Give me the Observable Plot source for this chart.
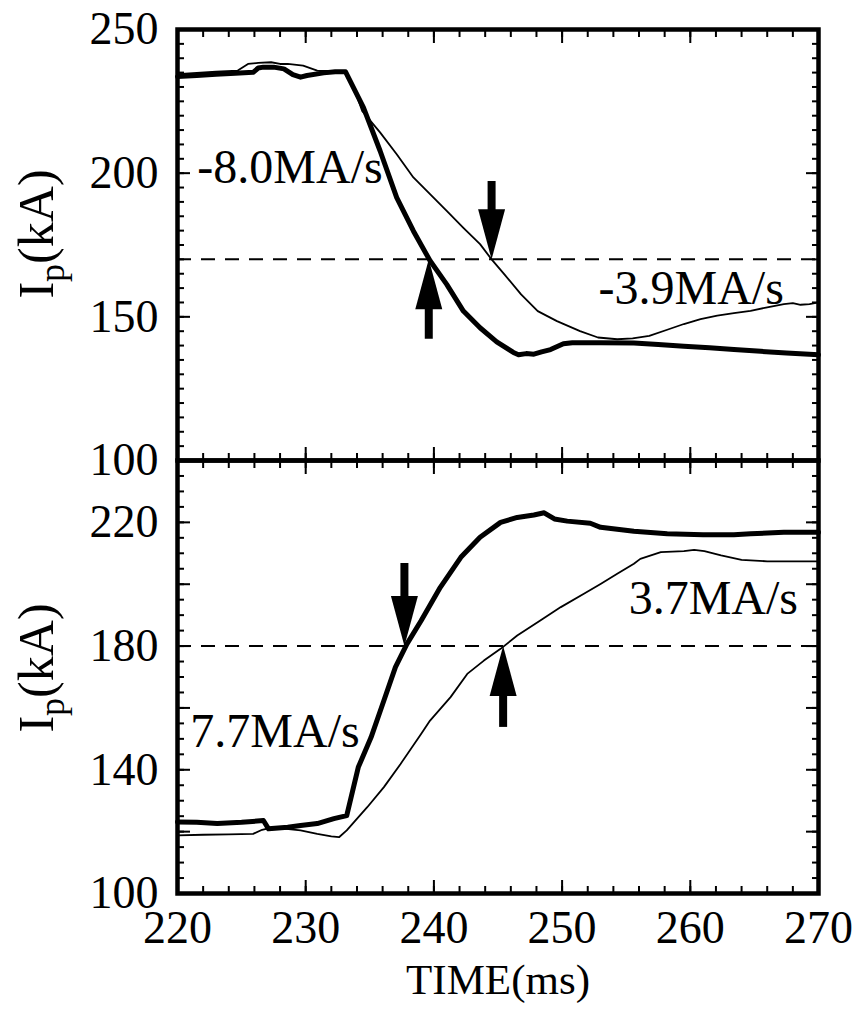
<!DOCTYPE html>
<html>
<head>
<meta charset="utf-8">
<script src="https://cdn.jsdelivr.net/npm/d3@7"></script>
<script src="https://cdn.jsdelivr.net/npm/@observablehq/plot@0.6"></script>
<style>
  html, body { margin: 0; padding: 0; background: white; }
  #chart { position: relative; width: 862px; height: 1017px; background: white; }
  #chart svg { position: absolute; left: 0; top: 0; }
  #chart svg, #chart svg text, #chart svg tspan { font-family: 'Liberation Serif', 'Times New Roman', Times, serif !important; }
</style>
</head>
<body>
<div id="chart"></div>
<script>
// ---------------- DATA ----------------
// Upper panel (current ramp-down)
const topThickTime = [220.0,221.5,223.0,224.5,225.9,226.3,226.7,227.5,228.3,229.0,229.6,230.1,231.4,232.3,233.1,234.5,235.8,237.1,238.4,239.7,241.0,242.3,243.6,244.9,246.2,246.6,247.2,247.8,248.4,249.1,250.1,250.8,253.0,255.6,257.5,259.5,261.5,263.4,265.5,267.5,270.0];
const topThickIp   = [233.6,234.0,234.4,234.8,235.1,236.6,236.9,236.9,236.3,234.3,233.4,234.0,234.9,235.3,235.3,222.9,207.8,191.5,179.9,169.5,161.3,152.0,146.2,141.3,137.6,136.8,137.2,137.0,137.8,138.6,140.6,141.0,141.0,140.9,140.4,139.8,139.2,138.6,138.0,137.4,136.8];
const topThinTime  = [220.0,221.5,223.0,224.7,225.5,226.3,227.3,228.0,228.6,229.8,230.9,232.0,233.1,233.8,234.4,235.8,237.1,238.4,239.7,241.0,242.3,243.6,244.5,245.5,246.8,248.1,249.6,251.4,252.8,254.3,255.5,256.8,258.2,259.5,260.8,262.1,263.4,264.7,266.0,267.3,268.0,268.6,269.3,270.0];
const topThinIp    = [234.5,234.9,235.3,235.7,238.0,238.4,238.6,238.0,238.0,237.4,235.7,235.6,235.3,229.1,221.7,214.2,206.6,198.5,192.7,186.9,181.0,175.3,170.0,164.8,157.8,152.0,148.5,145.0,142.8,142.2,142.5,143.4,145.5,147.5,149.2,150.4,151.3,152.1,153.3,154.4,154.8,154.2,154.4,155.0];
const topLevel = 170;
const topArrowTime = [239.6, 244.5];
const topArrowTail = [142.2, 197.1];
const topArrowDir  = ["up", "down"];
const topRates = ["-8.0MA/s", "-3.9MA/s"];

// Lower panel (current ramp-up)
const botThickTime = [220.0,221.5,223.1,225.0,226.7,227.1,228.6,229.6,230.9,232.2,233.2,234.1,235.1,236.1,237.0,237.9,239.0,240.5,242.1,243.6,245.2,246.5,247.8,248.6,249.4,250.4,252.2,253.0,255.6,258.2,261.0,263.4,264.7,267.3,270.0];
const botThickIp   = [123.1,123.0,122.6,123.0,123.6,120.9,121.4,122.0,122.6,124.2,125.2,140.8,150.5,162.4,173.2,180.7,188.2,199.0,208.7,215.2,220.0,221.6,222.4,223.1,221.1,220.4,219.7,218.4,217.1,216.3,216.0,216.0,216.3,216.8,216.8];
const botThinTime  = [220.0,222.0,224.0,225.9,226.6,227.0,228.3,229.6,230.9,232.0,232.6,233.2,234.8,236.1,237.4,239.0,239.7,241.3,242.6,243.9,245.2,246.5,248.3,249.9,251.7,253.0,254.3,255.6,256.1,257.7,259.5,260.3,261.1,262.4,264.0,266.0,270.0];
const botThinIp    = [118.8,119.0,119.1,119.3,120.6,121.0,121.0,120.4,119.3,118.5,118.2,120.4,127.9,134.4,141.9,151.6,155.9,163.5,171.0,175.3,179.1,183.4,188.3,192.6,196.9,200.1,203.4,206.6,208.2,210.4,210.7,211.1,210.7,209.3,207.9,207.4,207.4];
const botLevel = 180;
const botArrowTime = [237.7, 245.4];
const botArrowTail = [206.7, 153.7];
const botArrowDir  = ["down", "up"];
const botRates = ["7.7MA/s", "3.7MA/s"];

// Axis ticks
const xMinorTicks = d3.range(220, 271, 2);
const xMajorTicks = [220, 230, 240, 250, 260, 270];
const topYLabels = [100, 150, 200, 250];
const topYMinor = d3.range(100, 251, 5);
const botYLabels = [100, 140, 180, 220];
const botYMajor = [100, 120, 140, 160, 180, 200, 220, 240];
const botYMinor = d3.range(100, 241, 5);

// ---------------- HELPERS ----------------
const rows = (ts, vs) => ts.map((t, i) => ({t, v: vs[i]}));
const arrows = (ts, tails, dirs, tip) => ts.map((t, i) => ({t, tail: tails[i], tip, dir: dirs[i]}));

const headDown = {draw(ctx) { ctx.moveTo(0, 0); ctx.lineTo(-13.5, -50); ctx.lineTo(13.5, -50); ctx.closePath(); }};
const headUp   = {draw(ctx) { ctx.moveTo(0, 0); ctx.lineTo(-13.5, 50); ctx.lineTo(13.5, 50); ctx.closePath(); }};

const FONT = "'Liberation Serif', 'Times New Roman', Times, serif";
const blank = () => "";

function tickMarks(yMinor, yMajor) {
  const m = [];
  for (const anchor of ["left", "right"]) {
    m.push(Plot.axisY({anchor, ticks: yMinor, tickSize: -7, tickFormat: blank, strokeWidth: 2, label: null}));
    m.push(Plot.axisY({anchor, ticks: yMajor, tickSize: -13, tickFormat: blank, strokeWidth: 2, label: null}));
  }
  for (const anchor of ["top", "bottom"]) {
    m.push(Plot.axisX({anchor, ticks: xMinorTicks, tickSize: -7, tickFormat: blank, strokeWidth: 2, label: null}));
    m.push(Plot.axisX({anchor, ticks: xMajorTicks, tickSize: -13, tickFormat: blank, strokeWidth: 2, label: null}));
  }
  return m;
}

function arrowMarks(arr) {
  const down = arr.filter(d => d.dir === "down");
  const up = arr.filter(d => d.dir === "up");
  return [
    Plot.ruleX(down, {x: "t", y1: "tail", y2: "tip", strokeWidth: 8, insetBottom: 45}),
    Plot.ruleX(up, {x: "t", y1: "tip", y2: "tail", strokeWidth: 8, insetTop: 45}),
    Plot.dot(down, {x: "t", y: "tip", symbol: headDown, r: 10, fill: "black", stroke: "none"}),
    Plot.dot(up, {x: "t", y: "tip", symbol: headUp, r: 10, fill: "black", stroke: "none"})
  ];
}

function addYLabel(svg, cx, cy) {
  const t = d3.select(svg).append("text")
    .attr("transform", `translate(${cx},${cy}) rotate(-90)`)
    .attr("text-anchor", "middle")
    .attr("font-family", FONT)
    .attr("font-size", 50)
    .attr("fill", "black");
  t.append("tspan").text("I");
  t.append("tspan").attr("dy", 11).attr("font-size", 36).text("p");
  t.append("tspan").attr("dy", -11).text("(kA)");
}

const common = {
  width: 862,
  height: 1017,
  marginLeft: 177,
  marginRight: 44,
  style: {background: "transparent", fontFamily: FONT, color: "black", overflow: "visible"}
};

const labelOpts = {tickSize: 0, fontSize: 46, fontFamily: FONT, tickFormat: d => String(d), label: null};
const rateOpts = {text: d => d, lineAnchor: "middle", fontSize: 48, fontFamily: FONT};

// ---------------- UPPER PANEL ----------------
const topPlot = Plot.plot({
  ...common,
  marginTop: 29,
  marginBottom: 557,
  x: {domain: [220, 270], axis: null},
  y: {domain: [100, 250], axis: null, label: null},
  marks: [
    Plot.frame({strokeWidth: 4.5}),
    ...tickMarks(topYMinor, topYLabels),
    Plot.axisY({anchor: "left", ticks: topYLabels, tickPadding: 19, ...labelOpts}),
    Plot.ruleY([topLevel], {strokeWidth: 2, strokeDasharray: "14,10"}),
    Plot.line(rows(topThinTime, topThinIp), {x: "t", y: "v", strokeWidth: 1.8}),
    Plot.line(rows(topThickTime, topThickIp), {x: "t", y: "v", strokeWidth: 5}),
    ...arrowMarks(arrows(topArrowTime, topArrowTail, topArrowDir, topLevel)),
    Plot.text([topRates[0]], {x: 221.55, y: 202.0, textAnchor: "start", ...rateOpts}),
    Plot.text([topRates[1]], {x: 267.3, y: 159.7, textAnchor: "end", ...rateOpts})
  ]
});

// ---------------- LOWER PANEL ----------------
const botPlot = Plot.plot({
  ...common,
  marginTop: 460,
  marginBottom: 124,
  x: {domain: [220, 270], axis: null},
  y: {domain: [100, 240], axis: null, label: null},
  marks: [
    Plot.frame({strokeWidth: 4.5}),
    ...tickMarks(botYMinor, botYMajor),
    Plot.axisY({anchor: "left", ticks: botYLabels, tickPadding: 19, ...labelOpts}),
    Plot.axisX({anchor: "bottom", ticks: xMajorTicks, tickPadding: 17, ...labelOpts}),
    Plot.text(["TIME(ms)"], {frameAnchor: "bottom", dy: 87, text: d => d, lineAnchor: "middle", fontSize: 43, fontFamily: FONT}),
    Plot.ruleY([botLevel], {strokeWidth: 2, strokeDasharray: "14,10"}),
    Plot.line(rows(botThinTime, botThinIp), {x: "t", y: "v", strokeWidth: 1.8}),
    Plot.line(rows(botThickTime, botThickIp), {x: "t", y: "v", strokeWidth: 5}),
    ...arrowMarks(arrows(botArrowTime, botArrowTail, botArrowDir, botLevel)),
    Plot.text([botRates[0]], {x: 221.0, y: 152.4, textAnchor: "start", ...rateOpts}),
    Plot.text([botRates[1]], {x: 268.4, y: 195.4, textAnchor: "end", ...rateOpts})
  ]
});

addYLabel(topPlot, 53, 234);
addYLabel(botPlot, 53, 668);

const chart = document.getElementById("chart");
chart.appendChild(topPlot);
chart.appendChild(botPlot);
</script>
</body>
</html>
